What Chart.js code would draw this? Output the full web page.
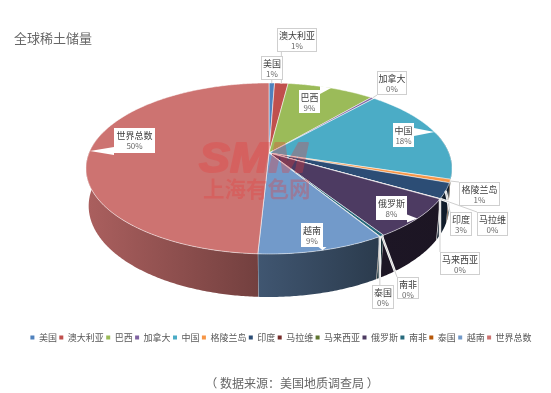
<!DOCTYPE html>
<html>
<head>
<meta charset="utf-8">
<title>全球稀土储量</title>
<script src="https://cdn.jsdelivr.net/npm/chart.js@4"></script>
<style>
  html, body { margin: 0; padding: 0; background: #fff; }
  canvas { display: block; }
</style>
</head>
<body>
<canvas id="reserves" width="551" height="393"></canvas>
<script>
const countries = ['美国', '澳大利亚', '巴西', '加拿大', '中国', '格陵兰岛', '印度', '马拉维', '马来西亚', '俄罗斯', '南非', '泰国', '越南', '世界总数'];
const reserves = [1400, 3400, 22000, 830, 44000, 1500, 6900, 136, 30, 18000, 790, 100, 22800, 118000];
const percentLabels = ['1%', '1%', '9%', '0%', '18%', '1%', '3%', '0%', '0%', '8%', '0%', '0%', '9%', '50%'];
const sliceColors = ['#4F81BD', '#C0504D', '#9BBB59', '#8064A2', '#4BACC6', '#F79646', '#2C4D75', '#772C2A', '#5F7530', '#4D3B62', '#276A7C', '#B65708', '#729ACA', '#CD7371'];

// label boxes [left, top, width, height, has leader line]
const labelBoxes = [
  [261, 56, 22, 24, true],
  [277, 28, 40, 24, true],
  [299, 90, 21, 23, false],
  [377, 71, 30, 24, true],
  [393, 123, 21, 24, false],
  [459, 182, 41, 24, true],
  [450, 212, 22, 24, true],
  [477, 212, 31, 24, true],
  [440, 252, 40, 23, true],
  [376, 196, 31, 24, false],
  [397, 277, 22, 22, true],
  [372, 285, 22, 24, true],
  [301, 223, 22, 24, false],
  [114, 128, 41, 25, false],
];

// perspective of the pie: top face and bottom face of the disc
const topFace = { x: 269, y: 153, rx: 180, ry: 82.7, k: -0.181 };
const bottomFace = { x: 269, y: 191.4, rx: 178, ry: 88.7, k: -0.16 };

const project = (face, angle) => {
  const u = Math.cos(angle);
  const v = Math.sin(angle);
  const w = 1 + face.k * v;
  return [face.x + (face.rx * u) / w, face.y + (face.ry * v) / w];
};

const arcPoints = (face, start, end) => {
  const steps = Math.max(2, Math.ceil((end - start) / 0.01));
  const points = [];
  for (let i = 0; i <= steps; i++) {
    points.push(project(face, start + ((end - start) * i) / steps));
  }
  return points;
};

const shade = (hex, factor) => {
  const n = parseInt(hex.slice(1), 16);
  return `rgb(${((n >> 16) & 255) * factor}, ${((n >> 8) & 255) * factor}, ${(n & 255) * factor})`;
};

const wallFill = (ctx, color) => {
  const gradient = ctx.createLinearGradient(89, 0, 452, 0);
  gradient.addColorStop(0, shade(color, 0.83));
  gradient.addColorStop(0.466, shade(color, 0.56));
  gradient.addColorStop(0.8, shade(color, 0.38));
  gradient.addColorStop(1, shade(color, 0.36));
  return gradient;
};

const WALL_FROM = -0.25;
const WALL_TO = Math.PI + 0.25;

const drawWalls = (ctx, arcs) => {
  arcs.forEach((arc, i) => {
    const start = Math.max(arc.startAngle, WALL_FROM);
    const end = Math.min(arc.endAngle, WALL_TO);
    if (end <= start) return;
    const upper = arcPoints(topFace, start, end);
    const lower = arcPoints(bottomFace, start, end).reverse();
    ctx.beginPath();
    upper.concat(lower).forEach(([x, y], n) => (n ? ctx.lineTo(x, y) : ctx.moveTo(x, y)));
    ctx.closePath();
    ctx.fillStyle = wallFill(ctx, sliceColors[i]);
    ctx.fill();
    // seam on the left end of the wall piece
    const seamTop = project(topFace, end);
    const seamBottom = project(bottomFace, end);
    ctx.beginPath();
    ctx.moveTo(seamTop[0], seamTop[1]);
    ctx.lineTo(seamBottom[0], seamBottom[1]);
    ctx.strokeStyle = 'rgba(255, 255, 255, 0.55)';
    ctx.lineWidth = 1;
    ctx.stroke();
  });
};

const drawFaces = (ctx, arcs) => {
  arcs.forEach((arc, i) => {
    ctx.beginPath();
    ctx.moveTo(topFace.x, topFace.y);
    arcPoints(topFace, arc.startAngle, arc.endAngle).forEach(([x, y]) => ctx.lineTo(x, y));
    ctx.closePath();
    ctx.fillStyle = sliceColors[i];
    ctx.fill();
    ctx.strokeStyle = 'rgba(255, 255, 255, 0.65)';
    ctx.lineWidth = 0.8;
    ctx.stroke();
  });
};

const drawWatermark = (ctx) => {
  // drawn opaque on a spare canvas so fill + stroke do not double the alpha
  const spare = document.createElement('canvas');
  spare.width = 551;
  spare.height = 393;
  const mark = spare.getContext('2d');
  mark.fillStyle = mark.strokeStyle = 'rgb(230, 60, 60)';
  mark.lineJoin = 'round';
  mark.save();
  mark.translate(199, 172);
  mark.font = 'italic bold 43px "Liberation Sans"';
  mark.scale(108 / mark.measureText('SMM').width, 1);
  mark.lineWidth = 2;
  mark.fillText('SMM', 0, 0);
  mark.strokeText('SMM', 0, 0);
  mark.restore();
  mark.font = 'bold 21.5px "Noto Sans CJK SC"';
  mark.fillText('上海有色网', 203, 197);

  ctx.save();
  ctx.globalAlpha = 0.32;
  ctx.drawImage(spare, 0, 0);
  ctx.restore();
};

const clampToBox = (x, y, box) => [
  Math.min(box[0] + box[2], Math.max(box[0], x)),
  Math.min(box[1] + box[3], Math.max(box[1], y)),
];

const drawLabels = (ctx, arcs) => {
  ctx.save();
  // leaders and wedges first, the boxes cover their roots
  arcs.forEach((arc, i) => {
    const box = labelBoxes[i];
    const [ax, ay] = project(topFace, (arc.startAngle + arc.endAngle) / 2);
    const [bx, by] = clampToBox(ax, ay, box);
    if (box[4]) {
      ctx.beginPath();
      ctx.moveTo(ax, ay);
      ctx.lineTo(bx, by);
      ctx.strokeStyle = '#fff';
      ctx.lineWidth = 2.4;
      ctx.stroke();
      ctx.strokeStyle = '#cfcfcf';
      ctx.lineWidth = 1;
      ctx.stroke();
    } else {
      const alongX = bx === box[0] || bx === box[0] + box[2] ? 0 : 4;
      const alongY = alongX ? 0 : 4;
      ctx.beginPath();
      ctx.moveTo(ax, ay);
      ctx.lineTo(bx - alongX, by - alongY);
      ctx.lineTo(bx + alongX, by + alongY);
      ctx.closePath();
      ctx.fillStyle = '#fff';
      ctx.fill();
    }
  });
  arcs.forEach((arc, i) => {
    const [left, top, width, height, bordered] = labelBoxes[i];
    ctx.fillStyle = '#fff';
    ctx.fillRect(left, top, width, height);
    if (bordered) {
      ctx.strokeStyle = '#cfcfcf';
      ctx.lineWidth = 1;
      ctx.strokeRect(left + 0.5, top + 0.5, width - 1, height - 1);
    }
    ctx.textAlign = 'center';
    ctx.textBaseline = 'middle';
    ctx.fillStyle = '#404040';
    ctx.font = '9px "Noto Sans CJK SC"';
    ctx.fillText(countries[i], left + width / 2, top + 7.5);
    ctx.fillStyle = '#6a6a6a';
    ctx.font = '8px "Noto Sans CJK SC"';
    ctx.fillText(percentLabels[i], left + width / 2, top + 18);
  });
  ctx.restore();
};

const pie3d = {
  id: 'pie3d',
  beforeDatasetsDraw: (chart) => {
    const ctx = chart.ctx;
    const arcs = chart.getDatasetMeta(0).data;
    drawWalls(ctx, arcs);
    drawFaces(ctx, arcs);
    drawWatermark(ctx);
    drawLabels(ctx, arcs);

    ctx.save();
    ctx.fillStyle = '#666';
    ctx.font = '12px "Noto Sans CJK SC"';
    ctx.textAlign = 'center';
    ctx.textBaseline = 'middle';
    ctx.fillText('（ 数据来源：美国地质调查局 ）', 292, 383);
    ctx.restore();
    return false;
  },
};

new Chart(document.getElementById('reserves'), {
  type: 'pie',
  data: {
    labels: countries,
    datasets: [{ data: reserves, backgroundColor: sliceColors, borderWidth: 0 }],
  },
  options: {
    responsive: false,
    animation: false,
    layout: { padding: { left: 14, right: 3, top: 0, bottom: 41 } },
    plugins: {
      tooltip: { enabled: false },
      title: {
        display: true,
        text: '全球稀土储量',
        align: 'start',
        color: '#666',
        font: { family: '"Noto Sans CJK SC"', size: 13, weight: 'normal' },
        padding: { top: 30, bottom: 0 },
      },
      legend: {
        position: 'bottom',
        labels: {
          boxWidth: 4,
          boxHeight: 4,
          padding: 2.4,
          color: '#595959',
          font: { family: '"Noto Sans CJK SC"', size: 9 },
        },
      },
    },
  },
  plugins: [pie3d],
});
</script>
</body>
</html>
